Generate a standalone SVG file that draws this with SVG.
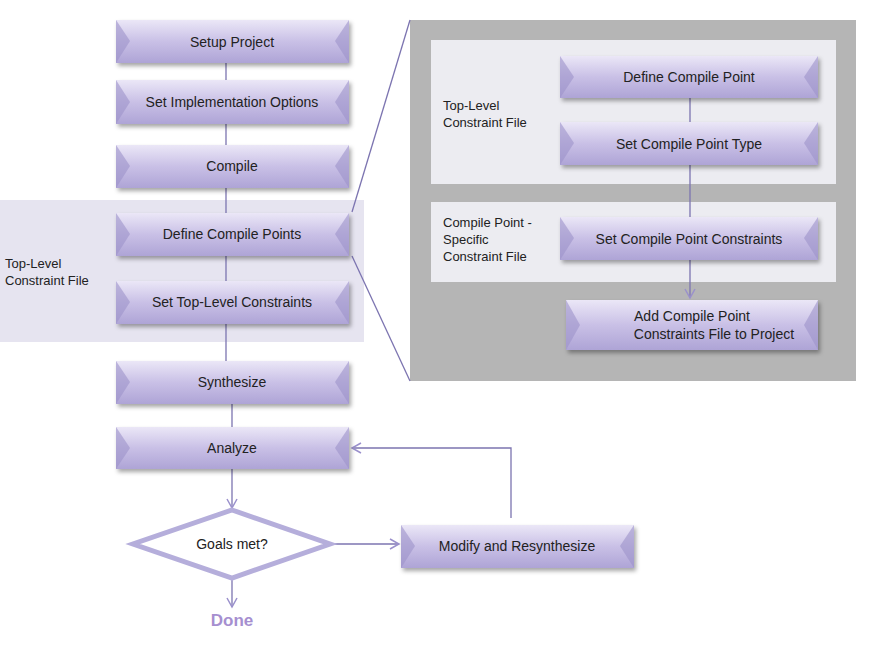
<svg xmlns="http://www.w3.org/2000/svg" width="874" height="646" viewBox="0 0 874 646">
<defs>
<linearGradient id="g" x1="0" y1="0" x2="0" y2="1"><stop offset="0" stop-color="#ebe7f7"/><stop offset="0.5" stop-color="#c9c0e6"/><stop offset="1" stop-color="#aea4d6"/></linearGradient>
<filter id="sh" x="-10%" y="-20%" width="125%" height="150%"><feDropShadow dx="2" dy="3" stdDeviation="2" flood-color="#000" flood-opacity="0.35"/></filter>
<marker id="a" markerWidth="12" markerHeight="12" refX="10" refY="6" orient="auto" markerUnits="userSpaceOnUse"><path d="M1,1 L10,6 L1,11" fill="none" stroke="#9a90cc" stroke-width="1.5"/></marker>
</defs>
<style>
.b{fill:url(#g);filter:url(#sh)}
.s{fill:#9d93c9;opacity:0.6}
.t{font-family:"Liberation Sans",Arial,sans-serif;font-size:14px;fill:#222;text-anchor:middle}
.l{font-family:"Liberation Sans",Arial,sans-serif;font-size:13px;fill:#222}
.c{stroke:#7c74b0;stroke-width:1.3;fill:none}
</style>
<rect x="0" y="200" width="364" height="142" fill="#e6e4f0"/>
<rect x="410" y="20" width="446" height="361" fill="#b5b5b5"/>
<rect x="431" y="40" width="405" height="144" fill="#ececf1"/>
<rect x="431" y="202" width="405" height="80" fill="#ececf1"/>
<text class="l" x="5" y="268">Top-Level</text><text class="l" x="5" y="285">Constraint File</text>
<text class="l" x="443" y="110">Top-Level</text><text class="l" x="443" y="127">Constraint File</text>
<text class="l" x="443" y="227">Compile Point -</text><text class="l" x="443" y="244">Specific</text><text class="l" x="443" y="261">Constraint File</text>
<g id="connectors">
<line class="c" x1="226" y1="63" x2="226" y2="80"/>
<line class="c" x1="226" y1="124" x2="226" y2="145"/>
<line class="c" x1="226" y1="188" x2="226" y2="213"/>
<line class="c" x1="226" y1="256" x2="226" y2="281"/>
<line class="c" x1="226" y1="324" x2="226" y2="361"/>
<line class="c" x1="232" y1="404" x2="232" y2="427"/>
<line class="c" x1="232" y1="469" x2="232" y2="508" marker-end="url(#a)"/>
<line class="c" x1="232" y1="578" x2="232" y2="607" marker-end="url(#a)"/>
<line class="c" x1="330" y1="544" x2="399" y2="544" marker-end="url(#a)"/>
<path class="c" d="M511,518 V448 H352" marker-end="url(#a)"/>
<line class="c" x1="352" y1="212" x2="410" y2="20"/>
<line class="c" x1="352" y1="256" x2="410" y2="381"/>
<line class="c" x1="690" y1="98" x2="690" y2="122"/>
<line class="c" x1="690" y1="165" x2="690" y2="217"/>
<line class="c" x1="690" y1="260" x2="690" y2="298" marker-end="url(#a)"/>
</g>
<g id="n1"><rect class="b" x="116" y="20" width="233" height="43"/><polygon class="s" points="116,20 130,41 116,63"/><polygon class="s" points="349,20 335,41 349,63"/><text class="t" x="232" y="47">Setup Project</text></g>
<g id="n2"><rect class="b" x="116" y="80" width="233" height="44"/><polygon class="s" points="116,80 130,102 116,124"/><polygon class="s" points="349,80 335,102 349,124"/><text class="t" x="232" y="107">Set Implementation Options</text></g>
<g id="n3"><rect class="b" x="116" y="145" width="233" height="43"/><polygon class="s" points="116,145 130,166 116,188"/><polygon class="s" points="349,145 335,166 349,188"/><text class="t" x="232" y="171">Compile</text></g>
<g id="n4"><rect class="b" x="116" y="213" width="233" height="43"/><polygon class="s" points="116,213 130,234 116,256"/><polygon class="s" points="349,213 335,234 349,256"/><text class="t" x="232" y="239">Define Compile Points</text></g>
<g id="n5"><rect class="b" x="116" y="281" width="233" height="43"/><polygon class="s" points="116,281 130,302 116,324"/><polygon class="s" points="349,281 335,302 349,324"/><text class="t" x="232" y="307">Set Top-Level Constraints</text></g>
<g id="n6"><rect class="b" x="116" y="361" width="233" height="43"/><polygon class="s" points="116,361 130,382 116,404"/><polygon class="s" points="349,361 335,382 349,404"/><text class="t" x="232" y="387">Synthesize</text></g>
<g id="n7"><rect class="b" x="116" y="427" width="233" height="42"/><polygon class="s" points="116,427 130,448 116,469"/><polygon class="s" points="349,427 335,448 349,469"/><text class="t" x="232" y="453">Analyze</text></g>
<g id="n8"><polygon points="232,510 330,544 232,578 133,544" fill="#fff" stroke="#b5aedb" stroke-width="5"/><text class="t" x="232" y="549">Goals met?</text></g>
<g id="n9"><rect class="b" x="401" y="525" width="233" height="43"/><polygon class="s" points="401,525 415,546 401,568"/><polygon class="s" points="634,525 620,546 634,568"/><text class="t" x="517" y="551">Modify and Resynthesize</text></g>
<g id="n10"><text x="232" y="626" font-family="Liberation Sans,Arial,sans-serif" font-size="17" font-weight="bold" fill="#a68fd0" text-anchor="middle">Done</text></g>
<g id="n11"><rect class="b" x="560" y="56" width="258" height="42"/><polygon class="s" points="560,56 574,77 560,98"/><polygon class="s" points="818,56 804,77 818,98"/><text class="t" x="689" y="82">Define  Compile Point</text></g>
<g id="n12"><rect class="b" x="560" y="122" width="258" height="43"/><polygon class="s" points="560,122 574,143 560,165"/><polygon class="s" points="818,122 804,143 818,165"/><text class="t" x="689" y="149">Set Compile Point Type</text></g>
<g id="n13"><rect class="b" x="560" y="217" width="258" height="43"/><polygon class="s" points="560,217 574,238 560,260"/><polygon class="s" points="818,217 804,238 818,260"/><text class="t" x="689" y="244">Set Compile Point Constraints</text></g>
<g id="n14"><rect class="b" x="566" y="300" width="252" height="50"/><polygon class="s" points="566,300 580,325 566,350"/><polygon class="s" points="818,300 804,325 818,350"/><text class="t" x="692" y="321">Add Compile Point</text><text class="t" x="714" y="339">Constraints File to Project</text></g>
</svg>
